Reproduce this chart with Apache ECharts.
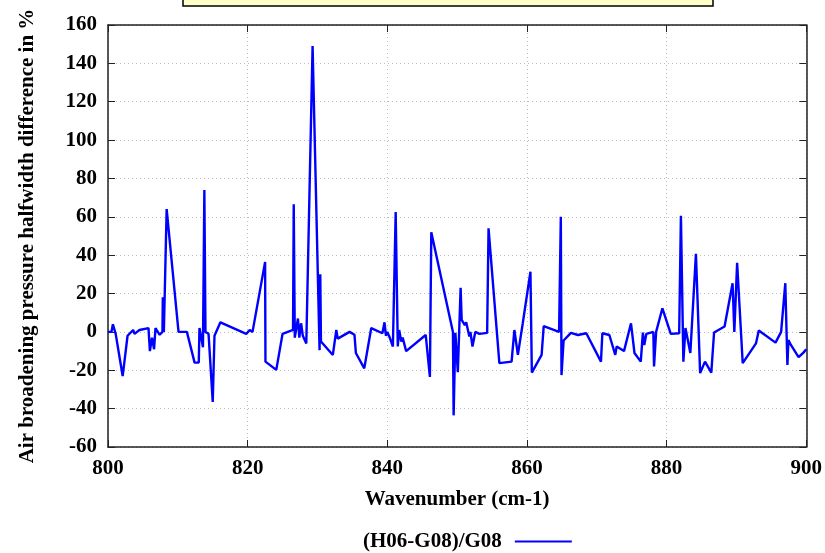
<!DOCTYPE html>
<html>
<head>
<meta charset="utf-8">
<script src="https://cdn.jsdelivr.net/npm/echarts@6/dist/echarts.min.js"></script>
<style>html,body{margin:0;padding:0;background:#fff;}#c{width:825px;height:553px;}</style>
</head>
<body>
<div id="c"></div>
<script>
const seriesName = '(H06-G08)/G08';
const xTitle = 'Wavenumber (cm-1)';
const yTitle = 'Air broadening pressure halfwidth difference in %';
const wavenumbers = [
800, 800.5, 800.7, 801.1, 802.1, 802.8, 803.6, 803.8, 804.5, 805.8, 806.0, 806.3, 806.6, 806.8, 807.4, 807.8, 807.85, 808.0, 808.4, 810.1,
811.3, 812.4, 813.0, 813.1, 813.3, 813.6, 813.8, 813.96, 814.4, 815.0, 815.25, 816.1, 819.8, 820.3, 820.7, 822.5, 822.55, 824.1, 825.0, 826.5,
826.6, 826.75, 827.2, 827.4, 827.65, 827.9, 828.4, 829.3, 830.3, 830.4, 830.5, 832.2, 832.7, 832.9, 834.6, 835.3, 835.5, 836.7, 837.7, 839.3,
839.6, 839.8, 840.0, 840.3, 840.8, 841.2, 841.5, 841.7, 842.0, 842.2, 842.7, 845.5, 846.1, 846.3, 849.4, 849.5, 849.75, 850.1, 850.5, 850.65,
850.8, 851.1, 851.3, 851.75, 851.9, 852.2, 852.6, 853.2, 854.3, 854.5, 856.05, 857.8, 858.2, 858.7, 859.4, 860.5, 860.7, 862.1, 862.4, 864.6,
864.85, 864.95, 865.25, 866.3, 867.3, 868.5, 870.6, 870.8, 871.8, 872.65, 872.85, 873.9, 874.9, 875.4, 876.3, 876.6, 876.8, 877.1, 878.1, 878.2,
878.5, 879.4, 880.6, 881.8, 882.05, 882.4, 882.7, 883.4, 884.2, 884.8, 885.5, 886.4, 886.8, 888.3, 889.45, 889.7, 890.1, 890.9, 892.8, 893.2,
895.6, 896.4, 897.0, 897.3, 897.45, 897.8, 898.9, 899.6, 900
];
const differences = [
0, 0, 4, -1, -23, -2, 1, -1, 1, 2, -10, -3, -9, 2, -1.5, 0, 18, 0, 64, 0,
0, -16, -16, 2, 1, -8, 74, 0, -1, -36.5, -2, 5, -1, 1, 0, 36.5, -15.5, -19.8, -1, 1,
66.5, -3, 7, -3, 4.5, -2, -6, 149, -9.5, 30, -5, -12, 1, -3.5, 0, -1.5, -11, -19, 2, -0.7,
5, -2, 0, -2.5, -7.6, 62.5, -7.6, 1, -5, -3, -10, -1.6, -23.5, 52, 0, -43.5, -0.5, -21, 23, 6.3,
6, 3.6, 5, -2.4, 0, -7.6, 0, -1, -0.5, 54, -16.3, -15.5, 1, -12, 4.5, 31.4, -21.2, -12, 3, 0,
60, -22.5, -4.5, -0.5, -1.6, -0.7, -15.5, -0.7, -1.6, -12, -7.6, -10, 4.5, -11, -15.5, -0.4, -6.8, -1, 0, -18,
0, 12.3, -1, -0.7, 60.5, -15.5, 2, -11, 40.7, -21.5, -15.5, -21.2, -0.3, 2.8, 25.4, 0, 36, -16.3, -6, 0.7,
-5.6, 0, 25.4, -17.2, -4.2, -6.8, -13.2, -10.8, -9
];

const data = wavenumbers.map((x, i) => [x, differences[i]]);
const font = 'Liberation Serif';
const fs = 21;
const axisCol = '#222';
const gridLine = {show: true, lineStyle: {color: '#bbb', type: [1, 3], width: 1}};

const chart = echarts.init(document.getElementById('c'), null, {renderer: 'canvas'});
chart.setOption({
  backgroundColor: '#fff',
  animation: false,
  grid: {left: 108, right: 18, top: 25, bottom: 106, show: false},
  graphic: [{
    type: 'rect', shape: {x: 183, y: -10, width: 530, height: 16},
    style: {fill: '#ffffc8', stroke: '#000', lineWidth: 1.5}
  }],
  legend: {
    show: true, left: 358, top: 526, align: 'right',
    icon: 'rect', itemWidth: 57, itemHeight: 2, itemGap: 10,
    textStyle: {fontFamily: font, fontWeight: 'bold', fontSize: fs, color: '#000', padding: [0, 8, 0, 0]},
    data: [seriesName]
  },
  xAxis: [{
    type: 'value', min: 800, max: 900, interval: 20,
    name: xTitle, nameLocation: 'middle', nameGap: 42,
    nameTextStyle: {fontFamily: font, fontWeight: 'bold', fontSize: fs, color: '#000'},
    axisLine: {show: true, onZero: false, lineStyle: {color: axisCol, width: 1.5}},
    axisTick: {show: true, inside: true, length: 7, lineStyle: {color: axisCol}},
    axisLabel: {fontFamily: font, fontWeight: 'bold', fontSize: fs, color: '#000', margin: 11},
    splitLine: gridLine
  }, {
    type: 'value', min: 800, max: 900, interval: 20, position: 'top',
    axisLine: {show: true, onZero: false, lineStyle: {color: axisCol, width: 1.5}},
    axisTick: {show: true, inside: true, length: 7, lineStyle: {color: axisCol}},
    axisLabel: {show: false}, splitLine: {show: false}
  }],
  yAxis: [{
    type: 'value', min: -60, max: 160, interval: 20,
    name: yTitle, nameLocation: 'middle', nameGap: 70,
    nameTextStyle: {fontFamily: font, fontWeight: 'bold', fontSize: fs, color: '#000'},
    axisLine: {show: true, onZero: false, lineStyle: {color: axisCol, width: 1.5}},
    axisTick: {show: true, inside: true, length: 7, lineStyle: {color: axisCol}},
    axisLabel: {fontFamily: font, fontWeight: 'bold', fontSize: fs, color: '#000', margin: 11},
    splitLine: gridLine
  }, {
    type: 'value', min: -60, max: 160, interval: 20, position: 'right',
    axisLine: {show: true, onZero: false, lineStyle: {color: axisCol, width: 1.5}},
    axisTick: {show: true, inside: true, length: 7, lineStyle: {color: axisCol}},
    axisLabel: {show: false}, splitLine: {show: false}
  }],
  series: [{
    name: seriesName, type: 'line', data: data,
    xAxisIndex: 0, yAxisIndex: 0,
    showSymbol: false, symbol: 'none',
    lineStyle: {color: '#0000ff', width: 2.4},
    itemStyle: {color: '#0000ff'}
  }]
});
</script>
</body>
</html>
